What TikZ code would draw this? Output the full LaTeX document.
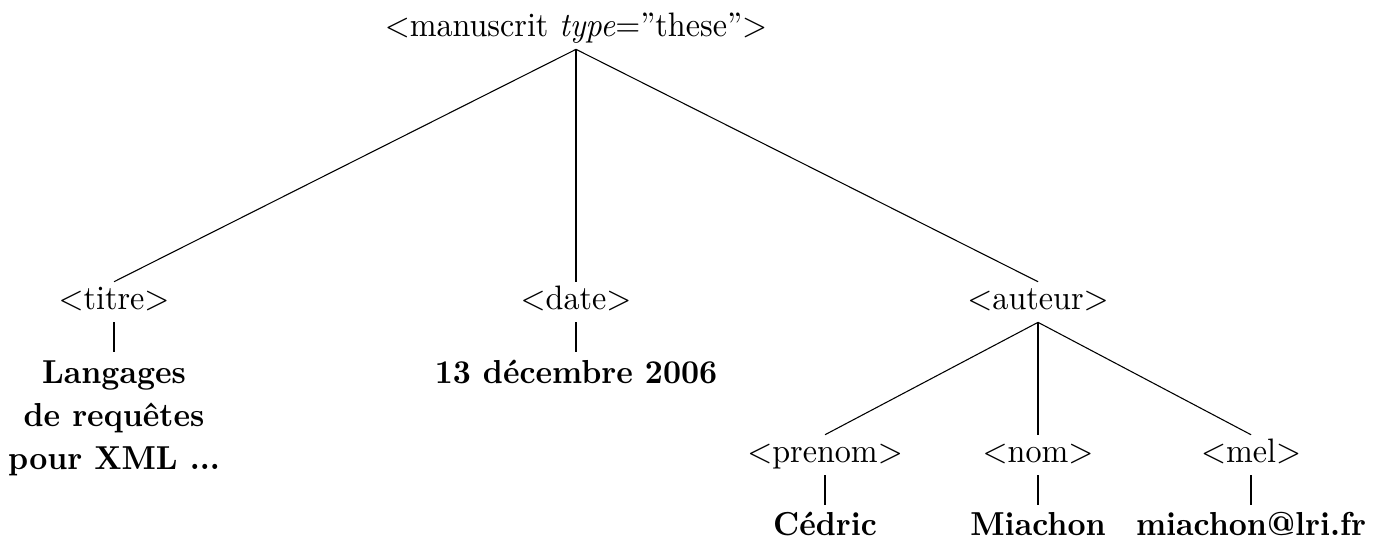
\documentclass[tikz,border=0pt]{standalone}
\newcommand{\tagtxt}[1]{\scalebox{0.9}[0.95]{#1}}
\newcommand{\leaftxt}[1]{\scalebox{0.88}[0.93]{\bfseries #1}}
\begin{document}
\begin{tikzpicture}[x=0.28pt,y=-0.28pt,
  tag/.style={inner xsep=0pt, inner ysep=0pt, text height=7.44pt, text depth=3.53pt, anchor=base},
  leaf/.style={align=center, inner xsep=0pt, inner ysep=2.2pt, anchor=north},
  lowleaf/.style={leaf, inner ysep=1.9pt},
  edge/.style={line width=0.3pt},
  vedge/.style={line width=0.5pt}]
\useasboundingbox (0,0) rectangle (1380,538);
\node[tag] (root) at (576,36) {\tagtxt{$<$manuscrit \textit{type}$=$''these''$>$}};
\node[tag] (titre) at (114,309) {\tagtxt{$<$titre$>$}};
\node[tag] (date) at (576,309) {\tagtxt{$<$date$>$}};
\node[tag] (auteur) at (1038,309) {\tagtxt{$<$auteur$>$}};
\node[tag] (prenom) at (825,462) {\tagtxt{$<$prenom$>$}};
\node[tag] (nom) at (1038,462) {\tagtxt{$<$nom$>$}};
\node[tag] (mel) at (1251,462) {\tagtxt{$<$mel$>$}};
\node[leaf] (ltitre) at (114,352) {\leaftxt{Langages}\\\leaftxt{de requêtes}\\\leaftxt{pour XML ...}};
\node[leaf] (ldate) at (576,352) {\leaftxt{13 décembre 2006}};
\node[lowleaf] (lprenom) at (825,505) {\leaftxt{Cédric}};
\node[lowleaf] (lnom) at (1038,505) {\leaftxt{Miachon}};
\node[lowleaf] (lmel) at (1251,505) {\leaftxt{miachon@lri.fr}};
\draw[edge] (root.south) -- (titre.north);
\draw[vedge] (root.south) -- (date.north);
\draw[edge] (root.south) -- (auteur.north);
\draw[edge] (auteur.south) -- (prenom.north);
\draw[vedge] (auteur.south) -- (nom.north);
\draw[edge] (auteur.south) -- (mel.north);
\draw[vedge] (titre.south) -- (ltitre.north);
\draw[vedge] (date.south) -- (ldate.north);
\draw[vedge] (prenom.south) -- (lprenom.north);
\draw[vedge] (nom.south) -- (lnom.north);
\draw[vedge] (mel.south) -- (lmel.north);
\end{tikzpicture}
\end{document}
